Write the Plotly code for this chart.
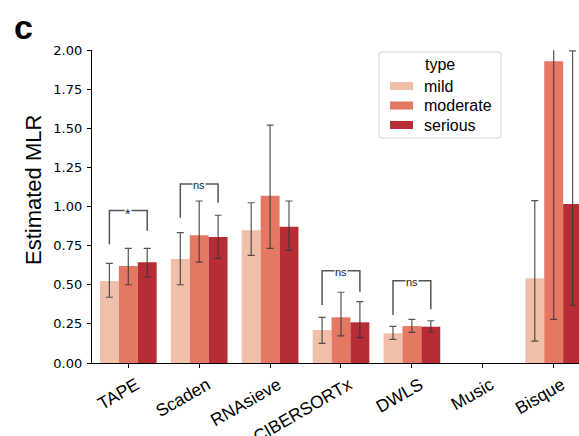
import plotly.graph_objects as go

# Methods and severity groups
methods = ["TAPE", "Scaden", "RNAsieve", "CIBERSORTx", "DWLS", "Music", "Bisque"]
types = ["mild", "moderate", "serious"]

# Mean estimated MLR per method (None = not available)
mild = [0.524, 0.664, 0.848, 0.211, 0.190, None, 0.541]
moderate = [0.620, 0.816, 1.069, 0.292, 0.236, None, 1.928]
serious = [0.643, 0.805, 0.871, 0.260, 0.232, None, 1.016]

# Confidence interval bounds
mild_lo = [0.420, 0.500, 0.688, 0.126, 0.151, None, 0.140]
mild_hi = [0.637, 0.833, 1.024, 0.292, 0.234, None, 1.037]
moderate_lo = [0.500, 0.645, 0.733, 0.173, 0.196, None, 0.279]
moderate_hi = [0.733, 1.035, 1.520, 0.452, 0.279, None, 2.300]
serious_lo = [0.548, 0.669, 0.720, 0.162, 0.198, None, 0.369]
serious_hi = [0.733, 0.944, 1.035, 0.392, 0.270, None, 1.994]

colors = ["#F0BFAA", "#E47862", "#B82C36"]

# Significance brackets: method, bar height, left/right leg ends, label
br_methods = ["TAPE", "Scaden", "CIBERSORTx", "DWLS"]
br_top = [0.974, 1.144, 0.590, 0.526]
br_left = [0.758, 0.928, 0.371, 0.307]
br_right = [0.845, 1.024, 0.456, 0.343]
br_label = ["*", "ns", "ns", "ns"]

series = [
    (mild, mild_lo, mild_hi),
    (moderate, moderate_lo, moderate_hi),
    (serious, serious_lo, serious_hi),
]

fig = go.Figure()
for name, col, (vals, lo, hi) in zip(types, colors, series):
    plus = [None if v is None else h - v for v, h in zip(vals, hi)]
    minus = [None if v is None else v - l for v, l in zip(vals, lo)]
    fig.add_trace(go.Bar(
        x=list(range(len(methods))), y=vals, name=name,
        marker=dict(color=col, line=dict(width=0)),
        error_y=dict(type="data", symmetric=False, array=plus, arrayminus=minus,
                     color="rgba(55,55,55,0.85)", thickness=1.2, width=3.5),
        showlegend=False,
    ))

W, H = 579, 436
L, R, T, B = 92, 0, 50, 73
PW, PH = W - L - R, H - T - B
FONT = "Liberation Sans, Arial"


def px(xp):
    return (xp - L) / PW


def py(yp):
    return (H - B - yp) / PH


def label(xp, yp, text, size, **kw):
    d = dict(x=px(xp), y=py(yp), xref="paper", yref="paper", text=text,
             showarrow=False, xanchor="center", yanchor="middle",
             font=dict(family=FONT, size=size, color="black"))
    d.update(kw)
    return d


shapes = []
annotations = []
off = 0.8 / 3
for m, top, yl, yr, lab in zip(br_methods, br_top, br_left, br_right, br_label):
    c = methods.index(m)
    x0, x1 = c - off, c + off
    shapes.append(dict(
        type="path", xref="x", yref="y",
        path=f"M {x0} {yl} L {x0} {top} L {x1} {top} L {x1} {yr}",
        line=dict(color="#555555", width=1.5),
    ))
    annotations.append(dict(
        x=c, y=top, xref="x", yref="y", text=lab, showarrow=False,
        xanchor="center", yanchor="middle",
        font=dict(family=FONT, size=11 if lab == "ns" else 14, color="#222"),
        bgcolor="white", borderpad=0, yshift=-1 if lab == "ns" else -3,
    ))

# Legend box with rounded corners
lx0, lx1, ly0, ly1, r = 379, 501, 52, 138, 3
path = (f"M {px(lx0 + r)} {py(ly0)} L {px(lx1 - r)} {py(ly0)} "
        f"Q {px(lx1)} {py(ly0)} {px(lx1)} {py(ly0 + r)} L {px(lx1)} {py(ly1 - r)} "
        f"Q {px(lx1)} {py(ly1)} {px(lx1 - r)} {py(ly1)} L {px(lx0 + r)} {py(ly1)} "
        f"Q {px(lx0)} {py(ly1)} {px(lx0)} {py(ly1 - r)} L {px(lx0)} {py(ly0 + r)} "
        f"Q {px(lx0)} {py(ly0)} {px(lx0 + r)} {py(ly0)} Z")
shapes.append(dict(type="path", xref="paper", yref="paper", path=path,
                   line=dict(color="#D6D6D6", width=1), fillcolor="rgba(255,255,255,0.85)"))
annotations.append(label(440, 65, "type", 16))
for i, (name, col) in enumerate(zip(types, colors)):
    yc = 86 + i * 19.5
    shapes.append(dict(type="rect", xref="paper", yref="paper",
                       x0=px(390), x1=px(413), y0=py(yc - 4), y1=py(yc + 4),
                       fillcolor=col, line=dict(width=0)))
    annotations.append(label(422, yc, name, 16, xanchor="left"))

# Axis title and panel letter
annotations.append(label(33, 190, "Estimated MLR", 22, textangle=-90))
annotations.append(label(23, 27, "<b>c</b>", 34))

fig.update_layout(
    width=W, height=H,
    margin=dict(l=L, r=R, t=T, b=B, autoexpand=False),
    paper_bgcolor="white", plot_bgcolor="white",
    barmode="group", bargap=0.2, bargroupgap=0,
    shapes=shapes, annotations=annotations,
    showlegend=False,
)
fig.update_xaxes(
    range=[-0.512, 6.357], tickmode="array", tickvals=list(range(len(methods))),
    ticktext=methods, tickangle=-30, showline=True, linecolor="black", linewidth=1.2,
    ticks="outside", ticklen=4, tickcolor="black", showgrid=False, zeroline=False,
    tickfont=dict(family=FONT, size=17.5, color="black"),
    ticklabelshift=8,
    automargin=False,
)
fig.update_yaxes(
    range=[0, 2.0], tickmode="array", tickvals=[i * 0.25 for i in range(9)],
    tickformat=".2f", showline=True, linecolor="black", linewidth=1.2,
    ticks="outside", ticklen=4, tickcolor="black", showgrid=False, zeroline=False,
    tickfont=dict(family="DejaVu Sans", size=13, color="black"),
    ticklabelstandoff=2,
    automargin=False,
)

fig.write_html("out.html")
